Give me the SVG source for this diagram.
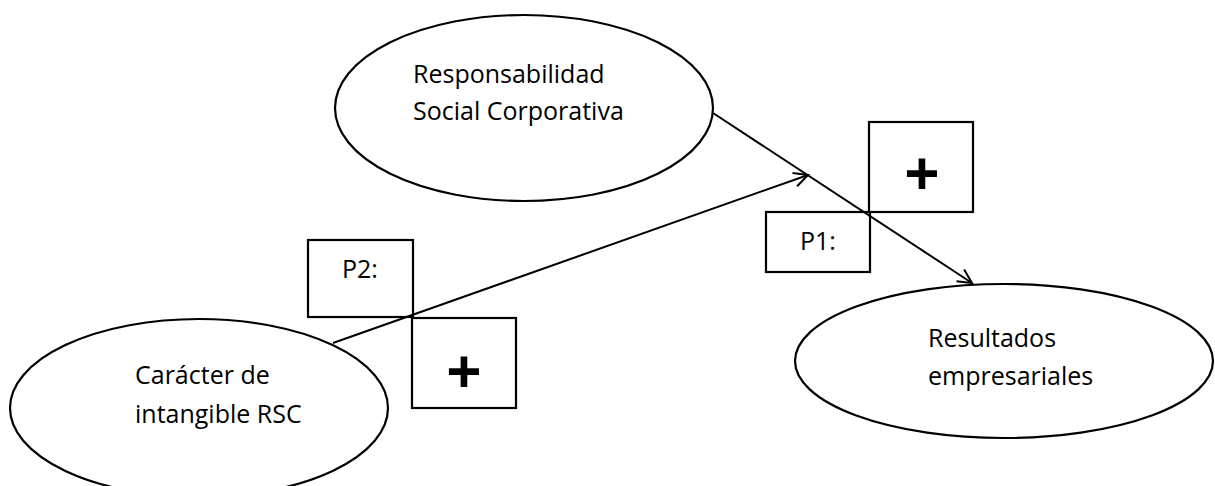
<svg xmlns="http://www.w3.org/2000/svg" width="1215" height="486" viewBox="0 0 1215 486">
  <style>
    .shape { fill: #ffffff; stroke: #000000; stroke-width: 2.2; }
    .label { font-family: "Open Sans", "Liberation Sans", sans-serif; font-size: 25px; fill: #000000; }
    .plus { font-family: "Open Sans", "Liberation Sans", sans-serif; font-size: 62px; font-weight: bold; fill: #000000; text-anchor: middle; }
    .edge { stroke: #000000; stroke-width: 2; fill: none; }
  </style>
  <defs>
    <marker id="open-arrow" markerUnits="userSpaceOnUse" markerWidth="20" markerHeight="20" refX="0" refY="0" viewBox="-16 -10 20 20" orient="auto">
      <path d="M -14 -7 L 0 0 L -14 7" fill="none" stroke="#000000" stroke-width="2"/>
    </marker>
  </defs>
  <rect width="1215" height="486" fill="#ffffff"/>

  <g id="node-rsc">
    <ellipse class="shape" cx="524" cy="108" rx="189" ry="93"/>
    <text class="label" x="413" y="83">Responsabilidad</text>
    <text class="label" x="413" y="120">Social Corporativa</text>
  </g>

  <g id="node-intangible">
    <ellipse class="shape" cx="199" cy="408" rx="189" ry="89"/>
    <text class="label" x="135" y="384">Carácter de</text>
    <text class="label" x="135" y="423">intangible RSC</text>
  </g>

  <g id="node-resultados">
    <ellipse class="shape" cx="1004" cy="361" rx="209" ry="77"/>
    <text class="label" x="928" y="347">Resultados</text>
    <text class="label" x="928" y="385">empresariales</text>
  </g>

  <g id="node-p1">
    <rect class="shape" x="766" y="212" width="104" height="60"/>
    <text class="label" x="800" y="250">P1:</text>
    <rect class="shape" x="869" y="122" width="104" height="90"/>
    <text class="plus" x="922" y="196">+</text>
  </g>

  <g id="node-p2">
    <rect class="shape" x="308" y="240" width="105" height="77"/>
    <text class="label" x="342" y="278">P2:</text>
    <rect class="shape" x="412" y="318" width="104" height="90"/>
    <text class="plus" x="464" y="394">+</text>
  </g>

  <g id="connectors">
    <line class="edge" x1="713" y1="113" x2="972" y2="283" marker-end="url(#open-arrow)"/>
    <line class="edge" x1="333" y1="343" x2="808" y2="175" marker-end="url(#open-arrow)"/>
  </g>
</svg>
